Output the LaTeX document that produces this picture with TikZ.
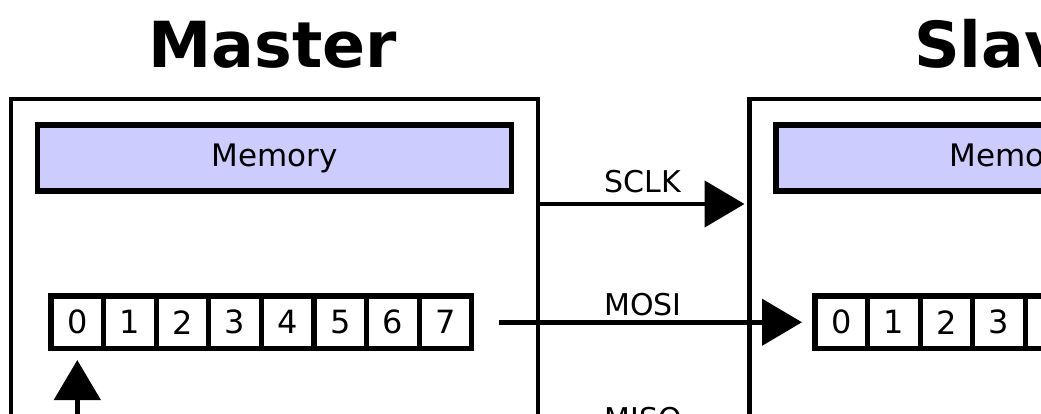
\documentclass[tikz,border=0pt]{standalone}
\usepackage{fontspec}
\setmainfont{DejaVu Sans}
\usetikzlibrary{arrows.meta}
\definecolor{memfill}{RGB}{204,204,255}
\tikzset{
  unitbox/.style={draw, line width=4.7pt, inner sep=0pt, outer sep=0pt, anchor=north west,
    minimum width=527pt, minimum height=420pt},
  membox/.style={draw, fill=memfill, line width=5.3pt, inner sep=0pt, outer sep=0pt,
    anchor=north west, minimum width=474pt, minimum height=66pt, font=\fontsize{31}{37}\selectfont},
  bitcell/.style={draw, fill=white, line width=5.3pt, inner sep=0pt, outer sep=0pt,
    anchor=north west, minimum width=52.6pt, minimum height=52.5pt,
    font=\fontsize{32}{38}\selectfont},
  title/.style={anchor=base, font=\bfseries\fontsize{63.5}{76}\selectfont},
  siglabel/.style={anchor=base, font=\fontsize{30}{36}\selectfont},
  sig/.style={line width=4.8pt, -{Triangle[length=40pt,width=46pt]}},
}
\begin{document}
\begin{tikzpicture}[x=1pt, y=-1pt]
\useasboundingbox (0,0) rectangle (1041,414);
\clip (0,0) rectangle (1041,414);

% titles
\node[title] (tMaster) at (273,68) {Master};
\node[title] (tSlave) at (1011.5,68) {Slave};

% device frames
\node[unitbox] (mbox) at (11,99) {};
\node[unitbox] (sbox) at (749.5,99) {};

% memory blocks
\node[membox] (mmem) at (37.5,125) {Memory};
\node[membox] (smem) at (776,125) {Memory};

% shift registers
\foreach \i in {0,...,7} {
  \node[bitcell] (m\i) at (51+\i*52.6,296) {\i};
  \node[bitcell] (s\i) at (815+\i*52.6,296) {\i};
}

% signal rows
\coordinate (ySclk) at (0,204);
\coordinate (mIn) at (77.3,430);

\draw[sig] (mbox.east |- ySclk) -- ([xshift=-5pt]sbox.west |- ySclk);
\draw[sig] ([xshift=27pt]m7.east) -- ([xshift=-13pt]s0.west);
\draw[sig] (mIn) -- ([yshift=-11.5pt]m0.south);

\node[siglabel] (lSclk) at (643,193) {SCLK};
\node[siglabel] (lMosi) at (643,315) {MOSI};
\node[siglabel] (lMiso) at (643,429) {MISO};
\end{tikzpicture}
\end{document}
